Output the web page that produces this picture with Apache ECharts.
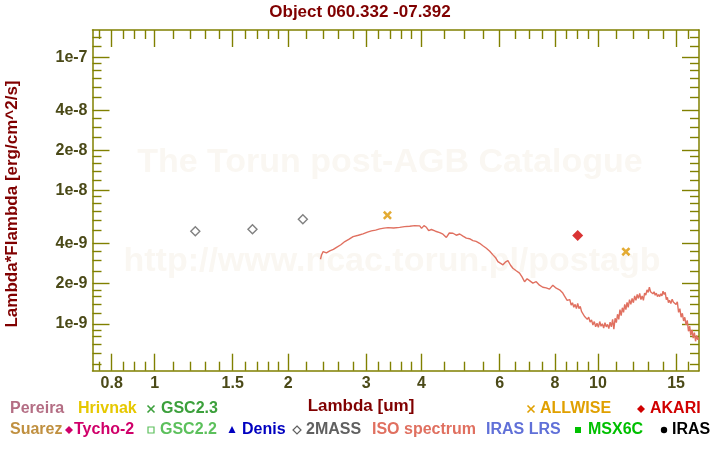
<!DOCTYPE html>
<html><head><meta charset="utf-8">
<script src="https://cdn.jsdelivr.net/npm/echarts@6/dist/echarts.min.js"></script>
<style>html,body{margin:0;padding:0;background:#fff}#c{width:720px;height:450px}</style>
</head><body><div id="c"></div>
<script>
// ---------- data ----------
const chartTitle = 'Object 060.332 -07.392';
const xName = 'Lambda [um]';
const yName = 'Lambda*Flambda [erg/cm^2/s]';
const xRange = [0.724, 16.9];
const yRange = [4.45e-10, 1.6e-7];

const xMajor = [0.8, 1, 1.5, 2, 3, 4, 6, 8, 10, 15];
const xMajorLabels = ['0.8', '1', '1.5', '2', '3', '4', '6', '8', '10', '15'];
const xMinor = [0.75, 0.85, 0.9, 0.95, 1.1, 1.2, 1.3, 1.4, 1.6, 1.7, 1.8, 1.9, 2.2, 2.4, 2.6, 2.8,
  3.2, 3.4, 3.6, 3.8, 4.5, 5, 5.5, 6.5, 7, 7.5, 8.5, 9, 9.5, 11, 12, 13, 14, 16];
const yMajor = [1e-9, 2e-9, 4e-9, 1e-8, 2e-8, 4e-8, 1e-7];
const yMajorLabels = ['1e-9', '2e-9', '4e-9', '1e-8', '2e-8', '4e-8', '1e-7'];
const yMinor = [5e-10, 6e-10, 7e-10, 8e-10, 9e-10, 1.2e-9, 1.4e-9, 1.6e-9, 1.8e-9, 2.5e-9, 3e-9, 3.5e-9,
  5e-9, 6e-9, 7e-9, 8e-9, 9e-9, 1.2e-8, 1.4e-8, 1.6e-8, 1.8e-8, 2.5e-8, 3e-8, 3.5e-8,
  5e-8, 6e-8, 7e-8, 8e-8, 9e-8, 1.2e-7, 1.4e-7];

// ISO spectrum, wavelength in um
const isoLambda = [2.366, 2.38, 2.399, 2.44, 2.483, 2.53, 2.572, 2.63, 2.685, 2.74, 2.803, 2.88, 2.951, 3.02,
  3.083, 3.15, 3.219, 3.29, 3.36, 3.46, 3.57, 3.66, 3.761, 3.86, 3.962, 4.00, 4.05, 4.102, 4.15, 4.209,
  4.30, 4.395, 4.47, 4.55, 4.62, 4.709, 4.79, 4.876, 4.96, 5.047, 5.13, 5.223, 5.31, 5.408, 5.50, 5.60,
  5.70, 5.795, 5.87, 5.947, 6.02, 6.104, 6.18, 6.264, 6.35, 6.427, 6.54, 6.654, 6.74, 6.829, 6.92, 7.009,
  7.13, 7.256, 7.38, 7.509, 7.64, 7.775, 7.91, 8.05, 8.19,
  8.33, 8.40, 8.46, 8.52, 8.58, 8.64, 8.70, 8.76, 8.82, 8.88, 8.94, 9.00, 9.06, 9.12, 9.18, 9.25, 9.32,
  9.39, 9.46, 9.53, 9.60, 9.67, 9.74, 9.81, 9.88, 9.95, 10.02, 10.09, 10.16, 10.23, 10.30, 10.37, 10.44,
  10.51, 10.58, 10.65, 10.72, 10.79, 10.86, 10.93, 11.00, 11.07, 11.14, 11.21, 11.28, 11.35, 11.42, 11.49,
  11.56, 11.63, 11.70, 11.78, 11.86, 11.94, 12.02, 12.10, 12.18, 12.26, 12.34, 12.42, 12.50, 12.58, 12.66,
  12.74, 12.82, 12.90, 12.98, 13.06, 13.14, 13.22, 13.30, 13.38, 13.46, 13.54, 13.62, 13.70, 13.78, 13.86,
  13.94, 14.02, 14.10, 14.18, 14.26, 14.34, 14.42, 14.50, 14.60, 14.70, 14.80, 14.90, 15.00, 15.10, 15.20,
  15.30, 15.40, 15.50, 15.60, 15.70, 15.80, 15.90, 16.00, 16.10, 16.20, 16.30, 16.40, 16.50, 16.60, 16.70,
  16.80, 16.85];
// ISO spectrum, Lambda*Flambda in erg/cm^2/s
const isoFlux = [3.05e-9, 3.30e-9, 3.48e-9, 3.40e-9, 3.52e-9, 3.62e-9, 3.75e-9, 3.92e-9, 4.14e-9, 4.30e-9,
  4.51e-9, 4.62e-9, 4.73e-9, 4.88e-9, 4.98e-9, 5.05e-9, 5.15e-9, 5.22e-9, 5.27e-9, 5.24e-9, 5.29e-9,
  5.36e-9, 5.40e-9, 5.45e-9, 5.43e-9, 5.20e-9, 5.45e-9, 5.30e-9, 5.00e-9, 5.10e-9, 4.95e-9, 4.83e-9,
  4.70e-9, 4.45e-9, 4.80e-9, 4.78e-9, 4.62e-9, 4.72e-9, 4.55e-9, 4.39e-9, 4.35e-9, 4.21e-9, 4.15e-9,
  4.02e-9, 3.85e-9, 3.69e-9, 3.50e-9, 3.29e-9, 3.15e-9, 2.93e-9, 2.85e-9, 2.77e-9, 2.90e-9, 2.98e-9,
  2.75e-9, 2.61e-9, 2.50e-9, 2.40e-9, 2.25e-9, 2.07e-9, 2.18e-9, 2.11e-9, 2.02e-9, 2.07e-9, 1.95e-9,
  1.88e-9, 1.86e-9, 1.82e-9, 1.95e-9, 1.85e-9, 1.80e-9,
  1.70e-9, 1.62e-9, 1.66e-9, 1.50e-9, 1.46e-9, 1.52e-9, 1.38e-9, 1.44e-9, 1.33e-9, 1.40e-9, 1.30e-9,
  1.42e-9, 1.30e-9, 1.35e-9, 1.24e-9, 1.20e-9, 1.14e-9, 1.18e-9, 1.08e-9, 1.12e-9, 1.03e-9, 1.07e-9,
  9.8e-10, 1.04e-9, 9.5e-10, 1.01e-9, 9.4e-10, 1.04e-9, 9.6e-10, 1.00e-9, 9.3e-10, 1.02e-9, 9.5e-10,
  9.9e-10, 9.2e-10, 1.03e-9, 9.5e-10, 1.08e-9, 9.1e-10, 1.10e-9, 1.02e-9, 1.18e-9, 1.08e-9, 1.28e-9,
  1.15e-9, 1.32e-9, 1.22e-9, 1.40e-9, 1.28e-9, 1.45e-9, 1.33e-9, 1.52e-9, 1.40e-9, 1.55e-9, 1.44e-9,
  1.62e-9, 1.50e-9, 1.66e-9, 1.55e-9, 1.69e-9, 1.52e-9, 1.62e-9, 1.50e-9, 1.70e-9, 1.64e-9, 1.80e-9,
  1.72e-9, 1.88e-9, 1.74e-9, 1.80e-9, 1.68e-9, 1.74e-9, 1.64e-9, 1.70e-9, 1.60e-9, 1.66e-9, 1.60e-9,
  1.68e-9, 1.62e-9, 1.76e-9, 1.66e-9, 1.72e-9, 1.52e-9, 1.58e-9, 1.44e-9, 1.50e-9, 1.42e-9, 1.53e-9,
  1.45e-9, 1.50e-9, 1.40e-9, 1.46e-9, 1.22e-9, 1.30e-9, 1.12e-9, 1.20e-9, 1.05e-9, 1.12e-9, 9.8e-10,
  1.06e-9, 8.8e-10, 9.6e-10, 8.2e-10, 9.0e-10, 7.8e-10, 8.6e-10, 7.4e-10, 8.2e-10, 7.6e-10, 7.9e-10];

const twomassLambda = [1.235, 1.662, 2.159];
const twomassFlux = [4.95e-9, 5.13e-9, 6.09e-9];
const allwiseLambda = [3.35, 11.56];
const allwiseFlux = [6.53e-9, 3.48e-9];
const akariLambda = [9.0];
const akariFlux = [4.59e-9];

const legendRow1 = ['Pereira', 'Hrivnak', 'GSC2.3', 'ALLWISE', 'AKARI'];
const legendRow2 = ['Suarez', 'Tycho-2', 'GSC2.2', 'Denis', '2MASS', 'ISO spectrum', 'IRAS LRS', 'MSX6C', 'IRAS'];

// ---------- drawing ----------
const L = Math.log10;
const olive = '#808000';
const tickLabelColor = '#4b4a18';
const darkRed = '#800000';
const FONT = '"Liberation Sans", Arial, sans-serif';

function labelFor(v, vals, labels) {
  for (let i = 0; i < vals.length; i++) if (Math.abs(L(vals[i]) - v) < 1e-6) return labels[i];
  return '';
}
function axis(kind, pos, vals, len, withLabel, withLine) {
  const range = kind === 'x' ? xRange : yRange;
  const lv = vals.map(L);
  return {
    type: 'value', position: pos, min: L(range[0]), max: L(range[1]),
    axisLine: { show: withLine, onZero: false, lineStyle: { color: olive, width: 1.5 } },
    axisTick: { show: true, inside: true, length: len, customValues: lv, lineStyle: { color: olive, width: 1.4 } },
    axisLabel: withLabel ? {
      show: true, customValues: lv, margin: 5,
      color: tickLabelColor, fontWeight: 'bold', fontSize: 16, fontFamily: FONT,
      formatter: v => kind === 'x' ? labelFor(v, xMajor, xMajorLabels) : labelFor(v, yMajor, yMajorLabels)
    } : { show: false },
    splitLine: { show: false }
  };
}

const legendColors = {
  'Pereira': '#b46e84', 'Hrivnak': '#e6c800', 'GSC2.3': '#3ca03c', 'ALLWISE': '#e0a000', 'AKARI': '#d00000',
  'Suarez': '#c09040', 'Tycho-2': '#d0006a', 'GSC2.2': '#5cc05c', 'Denis': '#0000c0', '2MASS': '#606060',
  'ISO spectrum': '#e07060', 'IRAS LRS': '#6070d8', 'MSX6C': '#00c000', 'IRAS': '#000000'
};
const legendTextX = {
  'Pereira': 10, 'Hrivnak': 78, 'GSC2.3': 161, 'ALLWISE': 540, 'AKARI': 650,
  'Suarez': 10, 'Tycho-2': 74, 'GSC2.2': 160, 'Denis': 242, '2MASS': 306, 'ISO spectrum': 372,
  'IRAS LRS': 486, 'MSX6C': 588, 'IRAS': 672
};
const legendMarker = {
  'GSC2.3': ['x', 151], 'ALLWISE': ['x', 531], 'AKARI': ['dfill', 641], 'Tycho-2': ['dfill', 69],
  'GSC2.2': ['sq', 151], 'Denis': ['tri', 232], '2MASS': ['dopen', 297], 'MSX6C': ['sqfill', 578], 'IRAS': ['circ', 664]
};

const graphics = [];
graphics.push({ type: 'text', z: -10, silent: true, style: { x: 390, y: 163, text: 'The Torun post-AGB Catalogue', fill: '#faf7f2', font: 'bold 34px ' + FONT, align: 'center', verticalAlign: 'middle' } });
graphics.push({ type: 'text', z: -10, silent: true, style: { x: 392, y: 262, text: 'http://www.ncac.torun.pl/postagb', fill: '#faf7f2', font: 'bold 34px ' + FONT, align: 'center', verticalAlign: 'middle' } });
graphics.push({ type: 'text', style: { x: 360, y: 12, text: chartTitle, fill: darkRed, font: 'bold 17px ' + FONT, align: 'center', verticalAlign: 'middle' } });
graphics.push({ type: 'text', style: { x: 361, y: 406, text: xName, fill: darkRed, font: 'bold 17px ' + FONT, align: 'center', verticalAlign: 'middle' } });
graphics.push({ type: 'text', rotation: Math.PI / 2, x: 12, y: 204, style: { x: 0, y: 0, text: yName, fill: darkRed, font: 'bold 17px ' + FONT, align: 'center', verticalAlign: 'middle' } });

function addMarker(kind, cx, cy, color) {
  const r = 4;
  if (kind === 'x') {
    graphics.push({ type: 'line', shape: { x1: cx - 3.5, y1: cy - 3.5, x2: cx + 3.5, y2: cy + 3.5 }, style: { stroke: color, lineWidth: 1.6 } });
    graphics.push({ type: 'line', shape: { x1: cx - 3.5, y1: cy + 3.5, x2: cx + 3.5, y2: cy - 3.5 }, style: { stroke: color, lineWidth: 1.6 } });
  } else if (kind === 'dfill' || kind === 'dopen') {
    graphics.push({ type: 'polygon', shape: { points: [[cx, cy - r], [cx + r, cy], [cx, cy + r], [cx - r, cy]] },
      style: kind === 'dfill' ? { fill: color } : { fill: '#fff', stroke: color, lineWidth: 1.2 } });
  } else if (kind === 'sq' || kind === 'sqfill') {
    graphics.push({ type: 'rect', shape: { x: cx - 3, y: cy - 3, width: 6, height: 6 },
      style: kind === 'sqfill' ? { fill: color } : { fill: '#fff', stroke: color, lineWidth: 1.2 } });
  } else if (kind === 'tri') {
    graphics.push({ type: 'polygon', shape: { points: [[cx, cy - 4], [cx + 3.5, cy + 3], [cx - 3.5, cy + 3]] }, style: { fill: color } });
  } else if (kind === 'circ') {
    graphics.push({ type: 'circle', shape: { cx: cx, cy: cy, r: 3.2 }, style: { fill: color } });
  }
}
function addLegendRow(names, y) {
  names.forEach(n => {
    graphics.push({ type: 'text', style: { x: legendTextX[n], y: y, text: n, fill: legendColors[n], font: 'bold 16px ' + FONT, verticalAlign: 'middle' } });
    if (legendMarker[n]) addMarker(legendMarker[n][0], legendMarker[n][1], y, legendColors[n]);
  });
}
addLegendRow(legendRow1, 409);
addLegendRow(legendRow2, 430);

const pts = (xs, ys) => xs.map((x, i) => [L(x), L(ys[i])]);
const crossPath = 'path://M0,2L2,0L5,3L8,0L10,2L7,5L10,8L8,10L5,7L2,10L0,8L3,5Z';

const option = {
  animation: false,
  backgroundColor: '#fff',
  grid: { left: 92.5, right: 21, top: 30, bottom: 79.3, containLabel: false },
  xAxis: [
    axis('x', 'bottom', xMajor, 17, true, true),
    axis('x', 'bottom', xMinor, 9, false, false),
    axis('x', 'top', xMajor, 17, false, true),
    axis('x', 'top', xMinor, 9, false, false)
  ],
  yAxis: [
    axis('y', 'left', yMajor, 17, true, true),
    axis('y', 'left', yMinor, 9, false, false),
    axis('y', 'right', yMajor, 17, false, true),
    axis('y', 'right', yMinor, 9, false, false)
  ],
  graphic: graphics,
  series: [
    { name: 'ISO spectrum', type: 'line', xAxisIndex: 0, yAxisIndex: 0, data: pts(isoLambda, isoFlux),
      showSymbol: false, lineStyle: { color: '#e07060', width: 1.4 }, z: 3 },
    { name: '2MASS', type: 'scatter', xAxisIndex: 0, yAxisIndex: 0, data: pts(twomassLambda, twomassFlux),
      symbol: 'diamond', symbolSize: 9, itemStyle: { color: '#fff', borderColor: '#606060', borderWidth: 1.4 }, z: 4 },
    { name: 'ALLWISE', type: 'scatter', xAxisIndex: 0, yAxisIndex: 0, data: pts(allwiseLambda, allwiseFlux),
      symbol: crossPath, symbolSize: 9, itemStyle: { color: '#dc9600' }, z: 4 },
    { name: 'AKARI', type: 'scatter', xAxisIndex: 0, yAxisIndex: 0, data: pts(akariLambda, akariFlux),
      symbol: 'diamond', symbolSize: 11, itemStyle: { color: '#d00000' }, z: 4 }
  ]
};
echarts.init(document.getElementById('c')).setOption(option);
</script>
</body></html>
